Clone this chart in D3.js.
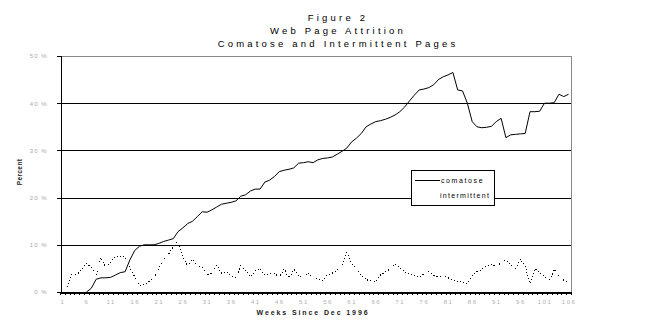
<!DOCTYPE html>
<html>
<head>
<meta charset="utf-8">
<script src="https://cdn.jsdelivr.net/npm/d3@7"></script>
<style>
  html, body { margin: 0; padding: 0; background: #fff; }
  svg { display: block; }
  text { font-family: "Liberation Sans", Arial, sans-serif; }
</style>
</head>
<body>
<svg id="chart" width="672" height="326"></svg>
<script>
// Weekly share of pages, in percent, from week 1 (Dec 1996) to week 106
const weeks = d3.range(1, 107);

const comatose = [
  null, null, null, null, null, 0, 0.8, 2.7, 3.0, 3.0,
  3.1, 3.6, 4.1, 4.3, 6.8, 8.8, 9.7, 10.0, 10.0, 10.0,
  10.3, 10.7, 11.0, 11.3, 12.8, 13.6, 14.5, 15.0, 16.0, 17.0,
  16.9, 17.4, 18.0, 18.6, 18.8, 19.0, 19.3, 20.3, 20.6, 21.4,
  21.8, 21.8, 23.3, 23.7, 24.5, 25.5, 25.8, 26.0, 26.3, 27.3,
  27.4, 27.6, 27.4, 28.0, 28.3, 28.4, 28.6, 29.2, 29.8, 30.5,
  31.8, 32.6, 33.6, 35.0, 35.6, 36.1, 36.3, 36.6, 37.0, 37.5,
  38.2, 39.2, 40.5, 41.7, 42.8, 43.0, 43.3, 43.9, 45.0, 45.6,
  46.0, 46.5, 42.8, 42.6, 40.0, 36.1, 35.0, 34.8, 34.9, 35.1,
  36.1, 36.8, 32.7, 33.3, 33.4, 33.5, 33.6, 38.2, 38.2, 38.3,
  40.0, 40.0, 40.1, 41.9, 41.4, 41.9
];

const intermittent = [
  null, 1.0, 4.1, 3.7, 4.7, 6.1, 5.2, 3.6, 7.3, 5.2,
  6.4, 7.6, 7.6, 7.5, 5.2, 3.2, 1.3, 1.6, 2.2, 2.9,
  5.0, 6.8, 8.0, 9.5, 11.0, 7.5, 5.4, 6.9, 5.4, 5.3,
  3.6, 4.0, 5.7, 4.0, 4.2, 3.4, 3.1, 5.5, 4.7, 3.2,
  4.5, 4.9, 3.6, 3.8, 4.0, 3.1, 4.9, 2.9, 4.8, 3.4,
  3.1, 4.0, 2.9, 2.7, 2.5, 3.6, 4.0, 4.7, 5.7, 8.3,
  6.1, 5.0, 3.6, 2.6, 2.4, 2.2, 3.6, 4.2, 4.9, 5.9,
  5.2, 4.3, 3.8, 3.6, 3.1, 3.8, 4.3, 3.6, 3.2, 3.6,
  3.0, 2.5, 2.3, 2.0, 1.8, 3.5, 4.3, 4.8, 5.5, 5.9,
  5.4, 6.2, 6.8, 5.7, 4.8, 7.0, 5.5, 1.8, 5.0, 4.0,
  3.2, 2.3, 4.8, 3.4, 2.5, 2.1
];

const xTickLabels = [1, 6, 11, 16, 21, 26, 31, 36, 41, 46, 51, 56, 61, 66, 71, 76, 81, 86, 91, 96, 101, 106];
const yTicks = [0, 10, 20, 30, 40, 50];

const titleLines = ["Figure 2", "Web Page Attrition", "Comatose and Intermittent Pages"];
const seriesNames = ["comatose", "intermittent"];

const svg = d3.select("#chart");
const plot = { left: 60, right: 571, top: 56, bottom: 292 };

const x = d3.scaleLinear().domain([0.5, 106.5]).range([plot.left, plot.right]);
const y = d3.scaleLinear().domain([0, 50]).range([plot.bottom, plot.top]);

// Title block
svg.append("g")
  .selectAll("text")
  .data(titleLines)
  .join("text")
  .attr("x", 338)
  .attr("y", (d, i) => 21 + i * 12.8)
  .attr("text-anchor", "middle")
  .attr("font-size", 9.5)
  .attr("letter-spacing", 3.2)
  .attr("fill", "#000")
  .text(d => d);

// Horizontal gridlines (the top edge belongs to the plot-area border)
svg.append("g")
  .selectAll("line")
  .data(yTicks.filter(v => v > 0 && v < 50))
  .join("line")
  .attr("x1", plot.left)
  .attr("x2", plot.right)
  .attr("y1", d => Math.round(y(d)) + 0.5)
  .attr("y2", d => Math.round(y(d)) + 0.5)
  .attr("stroke", "#000")
  .attr("stroke-width", 1)
  .attr("shape-rendering", "crispEdges");

// Plot-area border, top and right edges
svg.append("path")
  .attr("d", `M${plot.left},${Math.round(y(50)) + 0.5}H${plot.right + 0.5}V${plot.bottom}`)
  .attr("fill", "none")
  .attr("stroke", "#888")
  .attr("stroke-width", 1)
  .attr("shape-rendering", "crispEdges");

// Y axis
const yAxis = svg.append("g")
  .attr("transform", `translate(${plot.left + 0.5},0)`)
  .call(d3.axisLeft(y).tickValues(yTicks).tickSize(4).tickPadding(9).tickFormat(d => d + " %"));
yAxis.select(".domain").attr("stroke", "#000").attr("shape-rendering", "crispEdges");
yAxis.selectAll(".tick line").attr("stroke", "#000").attr("shape-rendering", "crispEdges");
yAxis.selectAll(".tick text")
  .attr("font-family", "'Liberation Sans', Arial, sans-serif")
  .attr("font-size", 6)
  .attr("letter-spacing", 1)
  .attr("fill", "#a8a8a8");

// X axis: tick marks between weeks
const xTicks = svg.append("g")
  .attr("transform", `translate(0,${plot.bottom + 0.5})`)
  .call(d3.axisBottom(x).tickValues(d3.range(0.5, 107, 1)).tickSize(2).tickFormat(""));
xTicks.select(".domain").attr("stroke", "#000").attr("stroke-width", 1.3).attr("shape-rendering", "crispEdges");
xTicks.selectAll(".tick line").attr("stroke", "#000").attr("shape-rendering", "crispEdges");

// X axis labels every fifth week
const xLabels = svg.append("g")
  .attr("transform", `translate(0,${plot.bottom + 0.5})`)
  .call(d3.axisBottom(x).tickValues(xTickLabels).tickSize(0).tickPadding(7).tickFormat(d3.format("d")));
xLabels.select(".domain").remove();
xLabels.selectAll(".tick text")
  .attr("font-family", "'Liberation Sans', Arial, sans-serif")
  .attr("font-size", 6)
  .attr("letter-spacing", 1.5)
  .attr("fill", "#b0b0b0");

// Axis titles
svg.append("text")
  .attr("x", 313)
  .attr("y", 315)
  .attr("text-anchor", "middle")
  .attr("font-size", 7)
  .attr("font-weight", "bold")
  .attr("letter-spacing", 1.9)
  .attr("fill", "#222")
  .text("Weeks Since Dec 1996");

svg.append("text")
  .attr("transform", "translate(22,172) rotate(-90)")
  .attr("text-anchor", "middle")
  .attr("font-size", 6.5)
  .attr("font-weight", "bold")
  .attr("letter-spacing", 0.4)
  .attr("fill", "#222")
  .text("Percent");

// Series lines
const line = d3.line()
  .defined(d => d.v != null)
  .x(d => x(d.w))
  .y(d => y(d.v));

svg.append("path")
  .datum(weeks.map((w, i) => ({ w, v: intermittent[i] })))
  .attr("d", line)
  .attr("fill", "none")
  .attr("stroke", "#000")
  .attr("stroke-width", 1)
  .attr("stroke-dasharray", "1,2.2")
  .attr("shape-rendering", "crispEdges");

svg.append("path")
  .datum(weeks.map((w, i) => ({ w, v: comatose[i] })))
  .attr("d", line)
  .attr("fill", "none")
  .attr("stroke", "#000")
  .attr("stroke-width", 1);

// Legend
const legend = svg.append("g").attr("transform", "translate(411,170)");
legend.append("rect")
  .attr("x", 0.5).attr("y", 0.5)
  .attr("width", 83).attr("height", 35)
  .attr("fill", "#fff")
  .attr("stroke", "#000")
  .attr("shape-rendering", "crispEdges");
legend.append("line")
  .attr("x1", 4).attr("x2", 29)
  .attr("y1", 10.5).attr("y2", 10.5)
  .attr("stroke", "#000")
  .attr("shape-rendering", "crispEdges");
legend.selectAll("text.series")
  .data(seriesNames)
  .join("text")
  .attr("class", "series")
  .attr("x", (d, i) => i === 0 ? 30 : 29)
  .attr("y", (d, i) => 13 + i * 14.5)
  .attr("font-size", 7)
  .attr("letter-spacing", (d, i) => i === 0 ? 1.6 : 1.3)
  .attr("fill", "#000")
  .text(d => d);
</script>
</body>
</html>
